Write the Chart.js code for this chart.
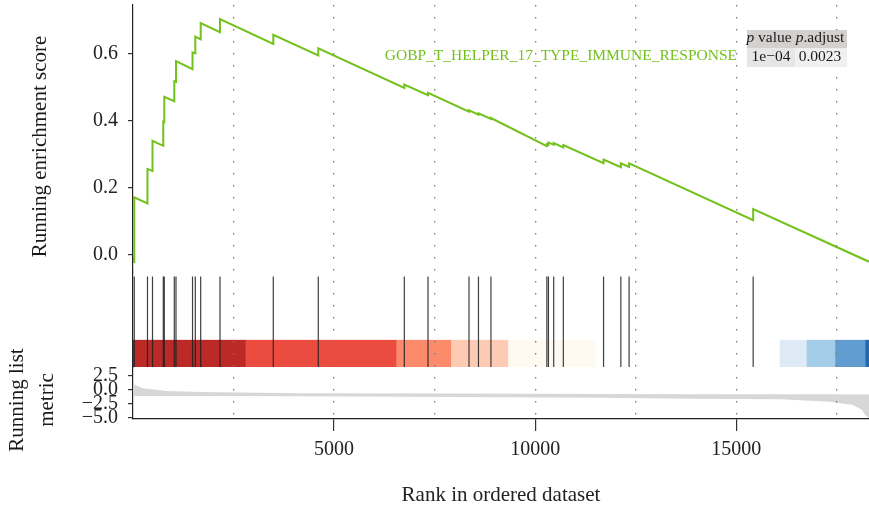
<!DOCTYPE html>
<html>
<head>
<meta charset="utf-8">
<script src="https://cdn.jsdelivr.net/npm/chart.js@4.4.1/dist/chart.umd.min.js"></script>
<style>
  html, body { margin: 0; padding: 0; background: #fff; }
  canvas { display: block; }
</style>
</head>
<body>
<canvas id="gsea" width="869" height="511"></canvas>
<script>
// gene set + stats
const geneSet = 'GOBP_T_HELPER_17_TYPE_IMMUNE_RESPONSE';
const pValue = '1e\u221204';
const pAdjust = '0.0023';
const nGenes = 18300;

const xTicks = [5000, 10000, 15000];
const gridRanks = [2500, 5000, 7500, 10000, 12500, 15000, 17500];
const esTicks = [0, 0.2, 0.4, 0.6];
const metricTicks = [2.5, 0, -2.5, -5];

// running enrichment score (rank, score)
const esRanks = [0, 32, 32, 360, 360, 485, 485, 753, 753, 778, 778, 1027, 1027, 1069, 1069,
  1480, 1480, 1549, 1549, 1683, 1683, 2163, 2163, 3488, 3488, 4607, 4607, 6746, 6746,
  7335, 7335, 8354, 8354, 8590, 8590, 8900, 8900, 10290, 10290, 10330, 10330, 10460, 10460,
  10700, 10700, 11700, 11700, 12130, 12130, 12335, 12335, 15420, 15420, 18300];
const esScores = [-0.005, -0.024, 0.172, 0.154, 0.257, 0.251, 0.341, 0.326, 0.398, 0.397, 0.472,
  0.459, 0.519, 0.517, 0.579, 0.555, 0.605, 0.602, 0.652, 0.644, 0.692, 0.665, 0.704,
  0.630, 0.657, 0.596, 0.617, 0.499, 0.509, 0.477, 0.484, 0.428, 0.432, 0.419, 0.423,
  0.406, 0.409, 0.325, 0.331, 0.329, 0.336, 0.329, 0.334, 0.321, 0.328, 0.274, 0.285,
  0.262, 0.274, 0.263, 0.274, 0.104, 0.137, -0.020];

// positions of gene set members in the ranked list
const hitRanks = [32, 360, 485, 753, 778, 1027, 1069, 1480, 1549, 1683, 2163, 3488, 4607,
  6746, 7335, 8354, 8590, 8900, 10290, 10330, 10460, 10700, 11700, 12130, 12335, 15420];

// colour strip under the hits
const barEdges = [0, 2800, 6550, 7910, 9330, 11500, 16080, 16750, 17460, 18210, 18300];
const barColors = ['#BB2A27', '#EA4C3F', '#FC8B6B', '#FDCBB4', '#FFFAF1', '#FFFFFF',
  '#DEEBF7', '#A3CCE9', '#619DD1', '#2467AE'];

// ranked list metric band
const metricRanks = [0, 250, 850, 1670, 4150, 8000, 11600, 14000, 16100, 17330, 17900, 18130, 18200, 18300];
const metricTop = [0.97, 0.21, -0.26, -0.44, -0.67, -0.72, -0.78, -0.82, -0.84, -0.85, -0.86, -0.86, -0.86, -0.86];
const metricBottom = [-1.14, -1.14, -1.14, -1.16, -1.2, -1.3, -1.45, -1.62, -1.72, -2.14, -2.72, -3.6, -4.48, -5.0];

const green = '#73C11C';
const serif = '"Liberation Serif", "DejaVu Serif", serif';
const minus = v => v.toFixed(1).replace('-', '\u2212');

Chart.defaults.font.family = serif;
Chart.defaults.font.size = 20;
Chart.defaults.color = '#222';

const fitLeft = s => { s.width = 133; s.paddingTop = 0; s.paddingBottom = 0; };

const hitPoints = [];
hitRanks.forEach(h => { hitPoints.push({x: h, y: 0}, {x: h, y: 1}, {x: h, y: null}); });

const decor = {
  id: 'decor',
  beforeDraw(chart) {
    const {ctx, scales: {x, yHits}} = chart;
    const yb = yHits.getPixelForValue(0), yt = yHits.getPixelForValue(0.3);
    ctx.save();
    barColors.forEach((c, i) => {
      const a = x.getPixelForValue(barEdges[i]), b = x.getPixelForValue(barEdges[i + 1]);
      ctx.fillStyle = c;
      ctx.fillRect(a, yt, b - a + 0.5, yb - yt);
    });
    ctx.restore();
  },
  afterDraw(chart) {
    const ctx = chart.ctx;
    ctx.save();
    ctx.fillStyle = '#1a1a1a';
    ctx.font = '21px ' + serif;
    ctx.textAlign = 'center';
    ctx.textBaseline = 'alphabetic';
    ctx.save();
    ctx.translate(46, 146.5);
    ctx.rotate(-Math.PI / 2);
    ctx.fillText('Running enrichment score', 0, 0);
    ctx.restore();
    ctx.save();
    ctx.translate(23, 400);
    ctx.rotate(-Math.PI / 2);
    ctx.fillText('Running list', 0, 0);
    ctx.fillText('metric', 0, 30);
    ctx.restore();

    // gene set label
    ctx.font = '15.5px ' + serif;
    ctx.fillStyle = green;
    ctx.textAlign = 'right';
    ctx.fillText(geneSet, 737, 60);

    // p value table
    ctx.fillStyle = '#D3D0CF';
    ctx.fillRect(747, 30, 100, 18.5);
    ctx.fillStyle = '#E6E6E6';
    ctx.fillRect(747, 48.5, 48, 18.5);
    ctx.fillStyle = '#F0F0F0';
    ctx.fillRect(795, 48.5, 52, 18.5);
    ctx.fillStyle = '#1a1a1a';
    const it = 'italic 15.5px ' + serif, rg = '15.5px ' + serif;
    const cell = (parts, cx, y) => {
      let w = 0;
      parts.forEach(([t, f]) => { ctx.font = f; w += ctx.measureText(t).width; });
      let x0 = cx - w / 2;
      ctx.textAlign = 'left';
      parts.forEach(([t, f]) => { ctx.font = f; ctx.fillText(t, x0, y); x0 += ctx.measureText(t).width; });
    };
    cell([['p', it], [' value', rg]], 769, 42);
    cell([['p', it], ['.adjust', rg]], 820, 42);
    cell([[pValue, rg]], 771, 61);
    cell([[pAdjust, rg]], 820, 61);
    ctx.restore();
  }
};

new Chart(document.getElementById('gsea').getContext('2d'), {
  type: 'line',
  data: {
    datasets: [
      { data: esRanks.map((r, i) => ({x: r, y: esScores[i]})), yAxisID: 'yES',
        borderColor: green, borderWidth: 2, pointRadius: 0, tension: 0, fill: false },
      { data: hitPoints, yAxisID: 'yHits', borderColor: 'rgba(30,30,30,0.85)', borderWidth: 1.2,
        pointRadius: 0, spanGaps: false, fill: false },
      { data: metricRanks.map((r, i) => ({x: r, y: metricTop[i]})), yAxisID: 'yMetric',
        borderWidth: 0, borderColor: 'rgba(0,0,0,0)', pointRadius: 0, fill: false },
      { data: metricRanks.map((r, i) => ({x: r, y: metricBottom[i]})), yAxisID: 'yMetric',
        borderWidth: 0, borderColor: 'rgba(0,0,0,0)', pointRadius: 0,
        backgroundColor: '#D7D7D7', fill: '-1' }
    ]
  },
  options: {
    responsive: false,
    animation: false,
    devicePixelRatio: 1,
    layout: { padding: { top: 5, left: 0, right: 0, bottom: 0 } },
    plugins: { legend: { display: false }, tooltip: { enabled: false } },
    scales: {
      x: {
        type: 'linear', position: 'bottom', min: 0, max: nGenes,
        afterBuildTicks: s => { s.ticks = xTicks.map(v => ({value: v})); },
        afterFit: s => { s.height = 92; s.paddingLeft = 0; s.paddingRight = 0; },
        grid: { drawOnChartArea: false, tickLength: 12, color: '#333', lineWidth: 1.2 },
        border: { color: '#222', width: 1.2 },
        ticks: { padding: 7, color: '#222', callback: v => String(v) },
        title: { display: true, text: 'Rank in ordered dataset', color: '#222', font: { size: 21 },
          padding: { top: 0, bottom: 3 } }
      },
      xg: {
        type: 'linear', position: 'top', min: 0, max: nGenes,
        afterBuildTicks: s => { s.ticks = gridRanks.map(v => ({value: v})); },
        afterFit: s => { s.height = 0; s.paddingLeft = 0; s.paddingRight = 0; },
        ticks: { display: false },
        grid: { color: '#7a7a7a', lineWidth: 1.3, drawTicks: false, z: 1 },
        border: { display: false, dash: [1.5, 10.5] }
      },
      yMetric: {
        type: 'linear', position: 'left', stack: 'gsea', stackWeight: 52, weight: 1,
        min: -5.18, max: 3.95,
        afterBuildTicks: s => { s.ticks = metricTicks.map(v => ({value: v})); },
        afterFit: fitLeft,
        ticks: { autoSkip: false, padding: 10, color: '#222', callback: v => minus(v) },
        grid: { drawOnChartArea: false, tickLength: 5, color: '#333', lineWidth: 1.2 },
        border: { color: '#222', width: 1.2 }
      },
      yHits: {
        type: 'linear', position: 'left', stack: 'gsea', stackWeight: 95, weight: 2,
        min: 0, max: 1.05,
        afterFit: fitLeft,
        ticks: { display: false },
        grid: { drawOnChartArea: false, drawTicks: false },
        border: { color: '#222', width: 1.2 }
      },
      yES: {
        type: 'linear', position: 'left', stack: 'gsea', stackWeight: 267, weight: 3,
        min: -0.0507, max: 0.7463,
        afterBuildTicks: s => { s.ticks = esTicks.map(v => ({value: v})); },
        afterFit: fitLeft,
        ticks: { autoSkip: false, padding: 10, color: '#222', callback: v => minus(v) },
        grid: { drawOnChartArea: false, tickLength: 5, color: '#333', lineWidth: 1.2 },
        border: { color: '#222', width: 1.2 }
      }
    }
  },
  plugins: [decor]
});
</script>
</body>
</html>
